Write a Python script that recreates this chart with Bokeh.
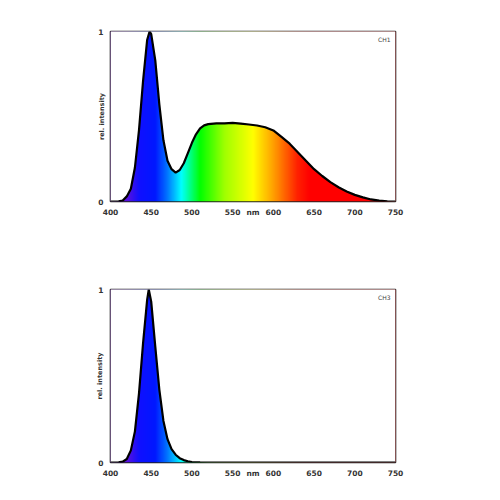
import numpy as np
from bokeh.plotting import figure
from bokeh.layouts import column
from bokeh.models import Label
from bokeh.embed import file_html
from bokeh.resources import INLINE

# ---- data ----
wl_ch1 = [400, 405, 410, 415, 420, 425, 430, 435, 440, 445, 448, 450, 455, 460, 465,
          470, 475, 480, 485, 490, 495, 500, 505, 510, 515, 520, 530, 540, 550, 560,
          570, 580, 590, 600, 610, 620, 630, 640, 650, 660, 670, 680, 690, 700, 710,
          720, 730, 740, 750]
int_ch1 = [0.0, 0.0, 0.001, 0.006, 0.03, 0.075, 0.2, 0.42, 0.71, 0.95, 1.0, 0.985, 0.83, 0.57, 0.36,
           0.24, 0.19, 0.17, 0.185, 0.225, 0.285, 0.345, 0.395, 0.43, 0.448, 0.455, 0.46, 0.46, 0.463, 0.458,
           0.453, 0.447, 0.437, 0.418, 0.38, 0.34, 0.29, 0.24, 0.19, 0.15, 0.114, 0.084, 0.059, 0.039, 0.024,
           0.012, 0.005, 0.001, 0.0]

wl_ch3 = [400, 405, 410, 415, 420, 425, 430, 435, 440, 445, 447, 450, 455, 460, 465,
          470, 475, 480, 485, 490, 495, 500, 510, 520, 750]
int_ch3 = [0.0, 0.0, 0.001, 0.005, 0.02, 0.07, 0.18, 0.40, 0.69, 0.94, 1.0, 0.93, 0.67, 0.42, 0.24,
           0.135, 0.077, 0.045, 0.025, 0.014, 0.007, 0.003, 0.001, 0.0, 0.0]

x_ticks = [400, 450, 500, 550, 600, 650, 700, 750]
y_ticks = [0, 1]
x_label = "nm"
x_label_pos = 575
y_label = "rel. intensity"

# ---- spectrum colour stops (style) ----
stop_wl = [400, 420, 435, 455, 470, 487, 500, 510, 540, 575, 600, 630, 645, 750]
stop_col = ["#7000c0", "#5a10e0", "#1010ff", "#0018ff", "#0078ff", "#00ffff", "#00ff70",
            "#00ff00", "#a0ff00", "#ffff00", "#ffa000", "#ff2000", "#ff0000", "#ff0000"]

FONT = "DejaVu Sans"


def spectrum_image(x0, x1, n=700):
    xs = np.linspace(x0, x1, n)
    rgb = np.array([[int(c[i:i + 2], 16) for i in (1, 3, 5)] for c in stop_col], dtype=float)
    img = np.zeros((1, n, 4), dtype=np.uint8)
    for ch in range(3):
        img[0, :, ch] = np.interp(xs, stop_wl, rgb[:, ch]).astype(np.uint8)
    img[0, :, 3] = 255
    return img.view(dtype=np.uint32).reshape((1, n))


def panel(wl, vals, name, h, bl, br, bt, bb, ylab_standoff):
    x0, x1 = x_ticks[0], x_ticks[-1]
    y0, y1 = y_ticks[0], y_ticks[-1]
    p = figure(width=500, height=h, x_range=(x0, x1), y_range=(y0, y1),
               output_backend="svg", toolbar_location=None,
               min_border_left=bl, min_border_right=br, min_border_top=bt, min_border_bottom=bb)
    p.grid.visible = False
    p.outline_line_color = "#222222"
    p.outline_line_width = 1.6
    p.background_fill_color = "white"
    p.border_fill_color = "white"

    # gradient fill: spectrum image, masked above the curve with white
    p.image_rgba(image=[spectrum_image(x0, x1)], x=x0, y=y0, dw=x1 - x0, dh=y1 - y0)
    mask_x = list(wl) + [wl[-1], wl[0]]
    mask_y = list(vals) + [y1 + 0.05, y1 + 0.05]
    p.patch(mask_x, mask_y, fill_color="white", line_color=None)
    p.line(wl, vals, line_color="black", line_width=2.2)

    for ax in (p.xaxis, p.yaxis):
        ax.axis_line_color = None
        ax.major_tick_line_color = None
        ax.minor_tick_line_color = None
        ax.major_tick_out = 0
        ax.major_tick_in = 0
        ax.minor_tick_out = 0
        ax.minor_tick_in = 0
        ax.major_label_text_font = FONT
        ax.major_label_text_font_style = "bold"
        ax.major_label_text_font_size = "7.5px"
        ax.major_label_text_color = "#333333"
    p.xaxis.ticker = sorted(x_ticks + [x_label_pos])
    p.xaxis.major_label_overrides = {x_label_pos: x_label}
    p.yaxis.ticker = y_ticks
    p.xaxis.major_label_standoff = 6
    p.yaxis.major_label_standoff = 7

    p.yaxis.axis_label = y_label
    p.yaxis.axis_label_standoff = ylab_standoff
    p.yaxis.axis_label_text_font = FONT
    p.yaxis.axis_label_text_font_style = "bold"
    p.yaxis.axis_label_text_font_size = "6.5px"
    p.yaxis.axis_label_text_color = "#333333"

    p.add_layout(Label(x=x1, y=y1, x_offset=-5, y_offset=-4, text=name,
                       text_align="right", text_baseline="top", text_font=FONT,
                       text_font_size="6px", text_color="#444444"))
    return p


p1 = panel(wl_ch1, int_ch1, "CH1", 250, 110, 105, 31, 49, -11)
p2 = panel(wl_ch3, int_ch3, "CH3", 250, 107, 103, 39, 38, -9)

layout = column(p1, p2, spacing=0)
open("out.html", "w").write(file_html(layout, INLINE))
